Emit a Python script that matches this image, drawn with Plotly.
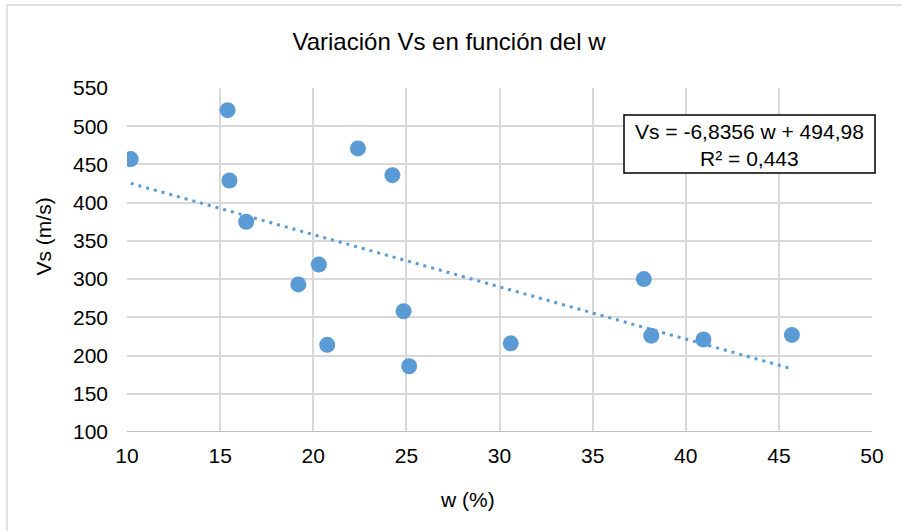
import plotly.graph_objects as go

# Water content (%) and shear-wave velocity (m/s)
w_pct = [10.2, 15.4, 15.5, 16.4, 19.2, 20.3, 20.75, 22.4, 24.25, 24.85, 25.15, 30.6, 37.75, 38.15, 40.95, 45.7]
vs_ms = [457, 521, 429, 375, 293, 319, 214, 471, 436, 258, 186, 216, 300, 226, 221, 227]

# Linear trend reported on the chart
slope = -6.8356
intercept = 494.98
r2_text = "0,443"

x_ticks = [10, 15, 20, 25, 30, 35, 40, 45, 50]
y_ticks = [100, 150, 200, 250, 300, 350, 400, 450, 500, 550]

blue = "#5b9bd5"
grid = "#d9d9d9"
font = "Liberation Sans, Arial, sans-serif"

# plot area in pixels
L, R, T, B = 127, 872, 88, 432
PW, PH = R - L, B - T


def px(x):
    return (x - L) / PW


def py(y):
    return (B - y) / PH


def fmt(v):
    return str(v).replace(".", ",")


trend_x = [min(w_pct), max(w_pct)]
trend_y = [slope * v + intercept for v in trend_x]

fig = go.Figure()
fig.add_trace(go.Scatter(
    x=trend_x, y=trend_y, mode="lines",
    line=dict(color=blue, width=3, dash="3px,5px"),
    hoverinfo="skip", showlegend=False,
))
fig.add_trace(go.Scatter(
    x=w_pct, y=vs_ms, mode="markers",
    marker=dict(color=blue, size=16, line=dict(width=0)),
    showlegend=False,
))

fig.update_layout(
    width=902, height=531,
    margin=dict(l=L, r=902 - R, t=T, b=531 - B),
    paper_bgcolor="white", plot_bgcolor="white",
    font=dict(family=font, size=21, color="#000000"),
    title=dict(text="Variación Vs en función del w", x=449 / 902, xanchor="center", xref="container",
               y=1 - 42 / 531, yanchor="middle", yref="container", font=dict(size=24, family=font)),
    xaxis=dict(range=[10, 50], tickvals=x_ticks, showgrid=True, gridcolor=grid, gridwidth=2,
               zeroline=False, showline=False, ticks="", ticklabelstandoff=9,
               tickfont=dict(size=21)),
    yaxis=dict(range=[100, 550], tickvals=y_ticks, showgrid=True, gridcolor=grid, gridwidth=2,
               zeroline=False, showline=False, ticks="", ticklabelstandoff=18,
               tickfont=dict(size=21)),
    shapes=[
        # outer frame of the chart area
        dict(type="rect", xref="paper", yref="paper",
             x0=px(7), x1=px(910), y0=py(540), y1=py(5),
             line=dict(color="#d9d9d9", width=1.5), fillcolor="rgba(0,0,0,0)", layer="below"),
        # bottom axis line
        dict(type="line", xref="paper", yref="y", x0=0, x1=1, y0=100, y1=100,
             line=dict(color="#bfbfbf", width=2)),
        # equation box
        dict(type="rect", xref="paper", yref="paper",
             x0=px(624), x1=px(875), y0=py(173), y1=py(115),
             line=dict(color="#000000", width=1.5), fillcolor="white"),
    ],
    annotations=[
        dict(text=f"Vs = {fmt(slope)} w + {fmt(intercept)}<br>R² = {r2_text}",
             xref="paper", yref="paper", x=px(749.5), y=py(145),
             xanchor="center", yanchor="middle", showarrow=False, align="center",
             font=dict(size=21, family=font)),
        dict(text="w (%)", xref="paper", yref="paper", x=px(467), y=py(500),
             xanchor="center", yanchor="middle", showarrow=False,
             font=dict(size=21, family=font)),
        dict(text="Vs (m/s)", xref="paper", yref="paper", x=px(43), y=py(236.5),
             xanchor="center", yanchor="middle", showarrow=False, textangle=-90,
             font=dict(size=21, family=font)),
    ],
)

fig.write_html("out.html")
